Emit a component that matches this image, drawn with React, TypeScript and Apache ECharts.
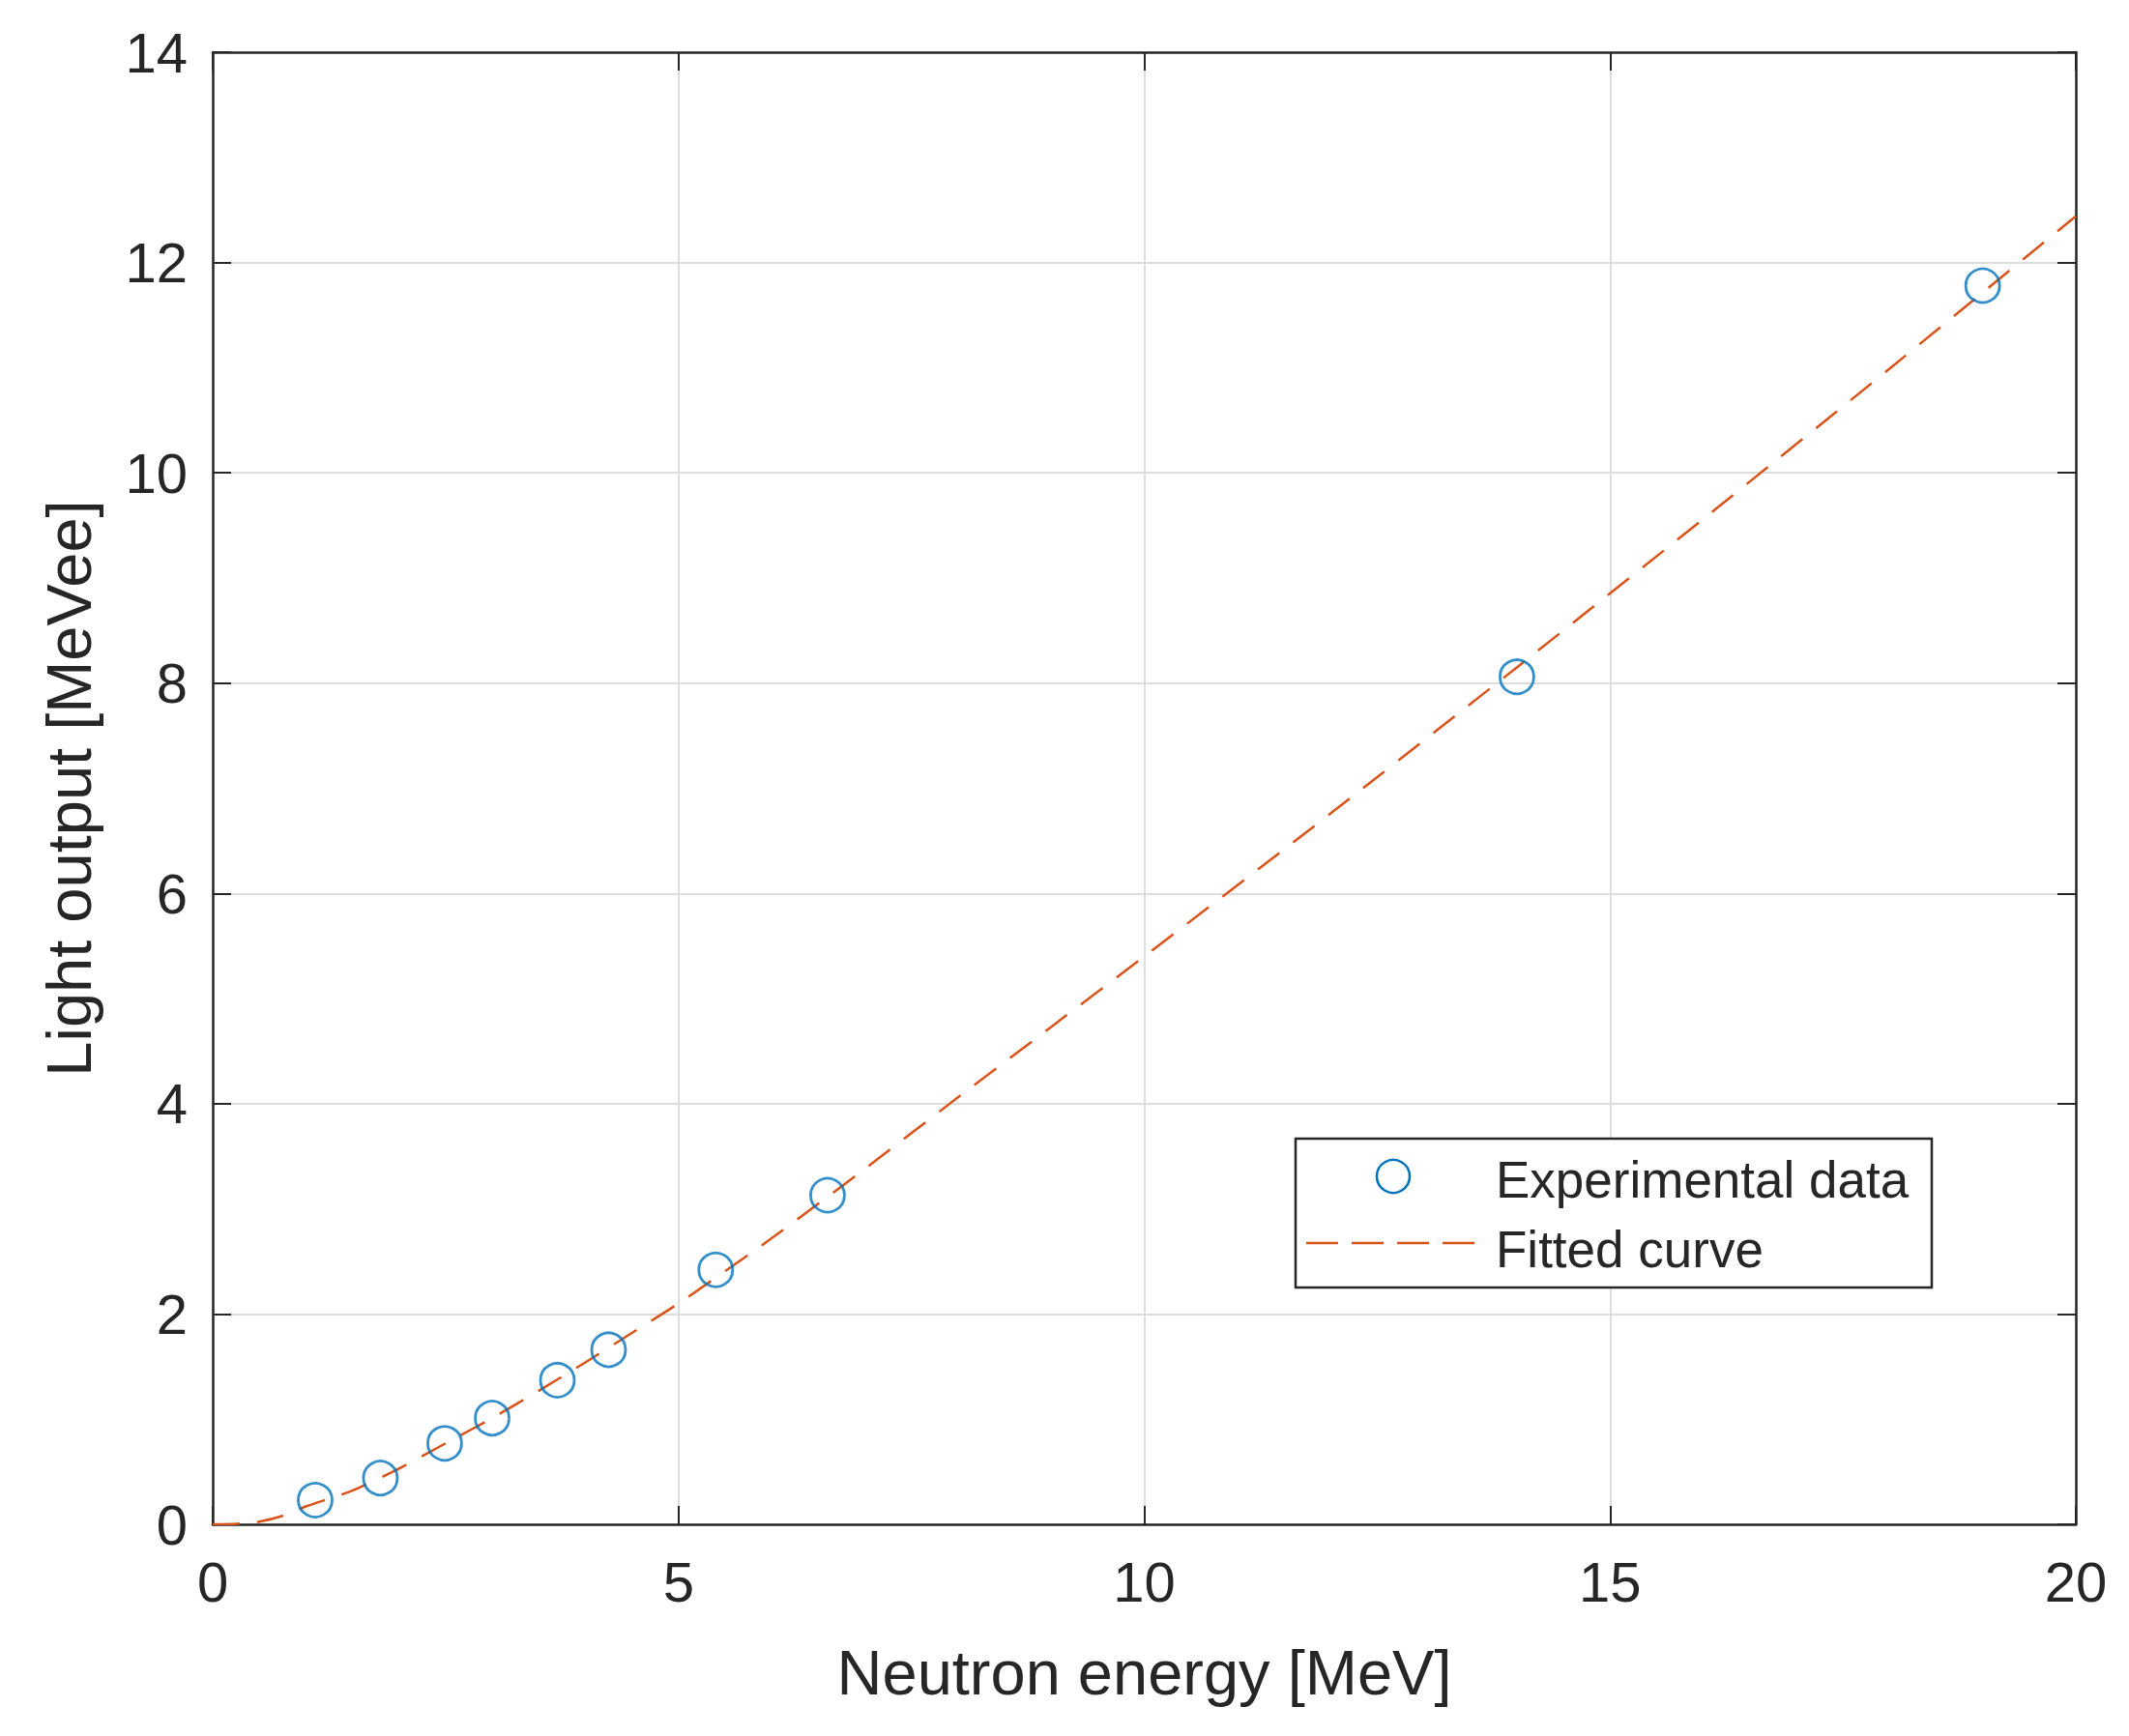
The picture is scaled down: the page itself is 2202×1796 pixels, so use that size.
import React, { useEffect, useRef } from "react";
import * as echarts from "echarts";

const energy = [1.1, 1.8, 2.49, 3.0, 3.7, 4.25, 5.4, 6.6, 14.0, 19.0];
const lightOutput = [0.23, 0.44, 0.77, 1.01, 1.37, 1.66, 2.42, 3.13, 8.06, 11.78];

const fitEnergy = [0, 0.25, 0.5, 0.75, 1, 1.5, 2, 2.5, 3, 3.5, 4, 4.5, 5, 6, 7, 8, 9, 10, 12, 14, 16, 18, 20];
const fitLight = [0, 0.005, 0.025, 0.08, 0.17, 0.32, 0.53, 0.77, 1.01, 1.27, 1.54, 1.82, 2.1, 2.72, 3.38, 4.06, 4.73, 5.4, 6.76, 8.15, 9.56, 10.99, 12.44];

const legendLabels = ["Experimental data", "Fitted curve"];

const FONT = "'Liberation Sans', Arial, Helvetica, sans-serif";
const AXIS_COLOR = "#262626";
const BLUE = "#0072BD";
const ORANGE = "#D95319";

export default function App() {
  const ref = useRef<HTMLDivElement>(null);

  useEffect(() => {
    if (!ref.current) return;
    const chart = echarts.init(ref.current, undefined, { renderer: "svg" });

    const axisLine = { show: true, onZero: false, lineStyle: { color: AXIS_COLOR, width: 2.5 } };
    const axisTick = { show: true, inside: true, length: 19, lineStyle: { color: AXIS_COLOR, width: 2 } };
    const splitLine = { show: true, lineStyle: { color: "#dddddd", width: 2 } };

    const option: any = {
      animation: false,
      backgroundColor: "#ffffff",
      textStyle: { fontFamily: FONT },
      grid: { left: 220, right: 55, top: 54, bottom: 219, containLabel: false },
      xAxis: [
        {
          type: "value",
          position: "bottom",
          min: 0,
          max: 20,
          interval: 5,
          axisLine,
          axisTick,
          splitLine,
          axisLabel: { color: AXIS_COLOR, fontSize: 58, fontFamily: FONT, margin: 30 },
          name: "Neutron energy [MeV]",
          nameLocation: "middle",
          nameGap: 121,
          nameTextStyle: { color: AXIS_COLOR, fontSize: 65, fontFamily: FONT },
        },
        {
          type: "value",
          position: "top",
          min: 0,
          max: 20,
          interval: 5,
          axisLine,
          axisTick,
          splitLine: { show: false },
          axisLabel: { show: false },
        },
      ],
      yAxis: [
        {
          type: "value",
          position: "left",
          min: 0,
          max: 14,
          interval: 2,
          axisLine,
          axisTick,
          splitLine,
          axisLabel: { color: AXIS_COLOR, fontSize: 58, fontFamily: FONT, margin: 26 },
          name: "Light output [MeVee]",
          nameLocation: "middle",
          nameGap: 116,
          nameTextStyle: { color: AXIS_COLOR, fontSize: 65, fontFamily: FONT },
        },
        {
          type: "value",
          position: "right",
          min: 0,
          max: 14,
          interval: 2,
          axisLine,
          axisTick,
          splitLine: { show: false },
          axisLabel: { show: false },
        },
      ],
      series: [
        {
          name: legendLabels[1],
          type: "line",
          xAxisIndex: 0,
          yAxisIndex: 0,
          data: fitEnergy.map((e, i) => [e, fitLight[i]]),
          showSymbol: false,
          smooth: 0.2,
          lineStyle: { color: ORANGE, width: 2.5, type: [28, 18] },
          z: 3,
        },
        {
          name: legendLabels[0],
          type: "scatter",
          xAxisIndex: 0,
          yAxisIndex: 0,
          data: energy.map((e, i) => [e, lightOutput[i]]),
          symbol: "circle",
          symbolSize: 35,
          itemStyle: { color: "rgba(0,0,0,0)", borderColor: BLUE, borderWidth: 2.8 },
          z: 4,
        },
      ],
      graphic: [
        {
          type: "rect",
          shape: { x: 1340, y: 1178, width: 658, height: 154 },
          style: { fill: "#ffffff", stroke: AXIS_COLOR, lineWidth: 2.5 },
          z: 10,
        },
        {
          type: "circle",
          shape: { cx: 1441, cy: 1217, r: 17 },
          style: { fill: "rgba(0,0,0,0)", stroke: BLUE, lineWidth: 2.5 },
          z: 11,
        },
        {
          type: "line",
          shape: { x1: 1351, y1: 1286, x2: 1530, y2: 1286 },
          style: { stroke: ORANGE, lineWidth: 2.5, lineDash: [33, 14] },
          z: 11,
        },
        {
          type: "text",
          x: 1547,
          y: 1220,
          style: {
            text: legendLabels[0],
            fill: AXIS_COLOR,
            font: `53px ${FONT}`,
            verticalAlign: "middle",
            align: "left",
          },
          z: 11,
        },
        {
          type: "text",
          x: 1547,
          y: 1292,
          style: {
            text: legendLabels[1],
            fill: AXIS_COLOR,
            font: `53px ${FONT}`,
            verticalAlign: "middle",
            align: "left",
          },
          z: 11,
        },
      ],
    };

    chart.setOption(option);
    return () => chart.dispose();
  }, []);

  return (
    <div
      ref={ref}
      style={{ position: "fixed", left: 0, top: 0, width: 2202, height: 1796, background: "#fff" }}
    />
  );
}
